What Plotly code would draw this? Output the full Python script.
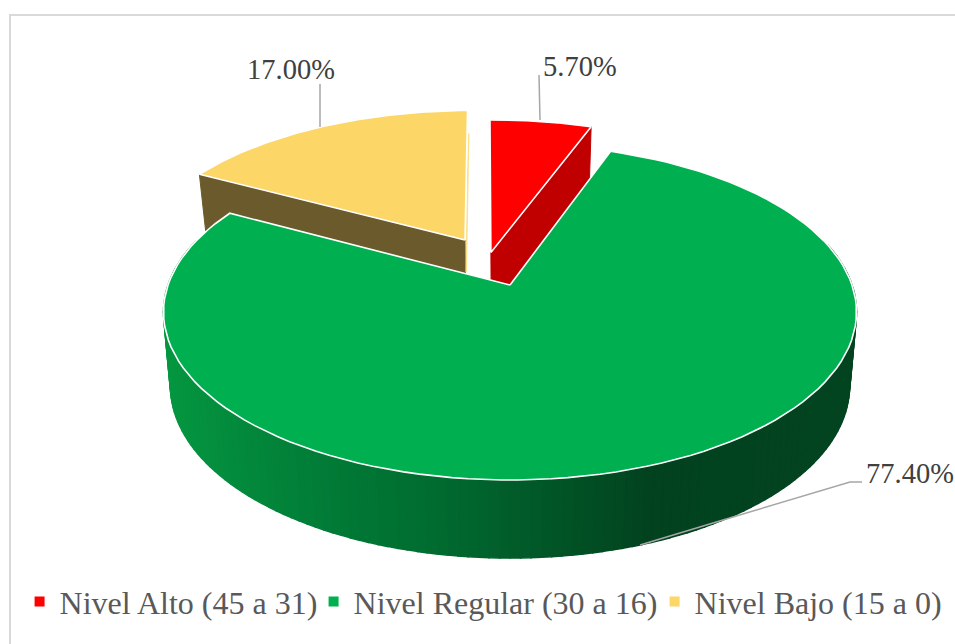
import numpy as np
import plotly.graph_objects as go

categories = ["Nivel Alto (45 a 31)", "Nivel Regular (30 a 16)", "Nivel Bajo (15 a 0)"]
values = [5.7, 77.4, 17.0]
labels = ["5.70%", "77.40%", "17.00%"]
top_colors = ["#ff0000", "#00b050", "#fcd667"]
wall_colors = ["#c00000", "#00b050", "#6b5a2b"]
explode_u = [-0.0577, 0.0, -0.1377]
explode_w = [0.205, 0.0, 0.288]
legend_widths = [249, 296, 246]

CX, CY, A, B, K = 510.0, 285.0, 342.0, 163.6, 0.161
ROT = -0.7
total = sum(values)
edges = ROT + np.concatenate([[0], np.cumsum(values)]) / total * 360


def project(u, w):
    d = 1 + K * w
    return CX + A * u / d, CY - B * w / d


def bottom(u, w, depth):
    x, y = project(u, w)
    return CX + (x - CX) * 0.98, y + depth


def back_depth(w):
    return 66 - 12.5 * w


def front_depth(w):
    return 73 - 5 * w


def wall_color(x):
    stops_x = [165, 300, 430, 650, 860]
    r = np.interp(x, stops_x, [5, 1, 0, 2, 3])
    g = np.interp(x, stops_x, [150, 127, 108, 66, 68])
    b = np.interp(x, stops_x, [64, 56, 48, 31, 32])
    return f"rgb({r:.0f},{g:.0f},{b:.0f})"


fig = go.Figure()


def poly(xs, ys, fill, line=None, width=1.0):
    fig.add_trace(go.Scatter(x=xs, y=ys, mode="lines", fill="toself", fillcolor=fill,
                             line=dict(color=line or fill, width=width),
                             hoverinfo="skip", showlegend=False))


# cut faces of the small slices (behind the green slice)
for i in (2, 0):
    t = np.radians(edges[i + 1] if i == 0 else edges[i])
    uo, wo = explode_u[i], explode_w[i]
    u0, w0 = uo, wo
    u1, w1 = uo + np.sin(t), wo + np.cos(t)
    x0, y0 = project(u0, w0)
    x1, y1 = project(u1, w1)
    bx0, by0 = bottom(u0, w0, back_depth(w0))
    bx1, by1 = bottom(u1, w1, back_depth(w1))
    poly([x0, x1, bx1, bx0, x0], [y0, y1, by1, by0, y0], wall_colors[i])

# thin visible cut face on the right side of the yellow slice
t = np.radians(edges[3])
ux, wx = explode_u[2] + np.sin(t) * 0.8, explode_w[2] + np.cos(t) * 0.8
xa, ya = project(ux, wx)
xb, yb = project(explode_u[2], explode_w[2])
fig.add_trace(go.Scatter(x=[xa + 1.5, xb + 1.2, xb + 1.2], y=[ya, yb, yb + 32], mode="lines",
                         line=dict(color="#fde08a", width=1.6), hoverinfo="skip", showlegend=False))

# outer wall of the large slice, shaded band by band
bands = np.radians(np.arange(75, 287, 1.5))
for a, b_ in zip(bands[:-1], bands[1:]):
    ua, wa = np.sin(a), np.cos(a)
    ub, wb = np.sin(b_), np.cos(b_)
    xa, ya = project(ua, wa)
    xb, yb = project(ub, wb)
    xc, yc = bottom(ub, wb, front_depth(wb))
    xd, yd = bottom(ua, wa, front_depth(wa))
    col = wall_color((xa + xb) / 2)
    poly([xa, xb, xc, xd, xa], [ya, yb, yc, yd, ya], col, width=1.5)

# top faces
for i in (2, 0, 1):
    th = np.radians(np.linspace(edges[i], edges[i + 1], 120))
    us = np.concatenate([[explode_u[i]], explode_u[i] + np.sin(th), [explode_u[i]]])
    ws = np.concatenate([[explode_w[i]], explode_w[i] + np.cos(th), [explode_w[i]]])
    xs, ys = project(us, ws)
    poly(xs, ys, top_colors[i], line="white", width=1.6)

# leader lines
for lx, ly in [([539, 540], [75, 120]), ([320, 320], [84, 127]),
               ([862, 850, 723, 640], [482, 482, 520, 545])]:
    fig.add_trace(go.Scatter(x=lx, y=ly, mode="lines", line=dict(color="#a6a6a6", width=1.5),
                             hoverinfo="skip", showlegend=False))

# legend entries
for name, col, lw in zip(categories, top_colors, legend_widths):
    fig.add_trace(go.Scatter(x=[None], y=[None], mode="markers", name=name, legendwidth=lw,
                             marker=dict(symbol="square", size=10, color=col)))

label_pos = [(580, 66), (910, 473), (291, 69)]
for text, (x, y) in zip(labels, label_pos):
    fig.add_annotation(x=x, y=y, text=text, showarrow=False, xanchor="center", yanchor="middle",
                       font=dict(family="Liberation Serif", size=28.5, color="#404040"))

fig.add_shape(type="rect", x0=10, y0=15, x1=1100, y1=800, line=dict(color="#d9d9d9", width=2),
              layer="below")

fig.update_layout(
    width=955, height=644, margin=dict(l=0, r=0, t=0, b=0),
    paper_bgcolor="white", plot_bgcolor="white",
    xaxis=dict(range=[0, 955], visible=False, fixedrange=True),
    yaxis=dict(range=[644, 0], visible=False, fixedrange=True),
    legend=dict(orientation="h", x=0.0205, xanchor="left", y=0.023, yanchor="bottom",
                font=dict(family="Liberation Serif", size=32, color="#595959"),
                bgcolor="rgba(0,0,0,0)", itemclick=False, itemdoubleclick=False,
                tracegroupgap=0),
)
fig.write_html("out.html", post_script="document.body.style.margin='0';",
               config={"displayModeBar": False})
